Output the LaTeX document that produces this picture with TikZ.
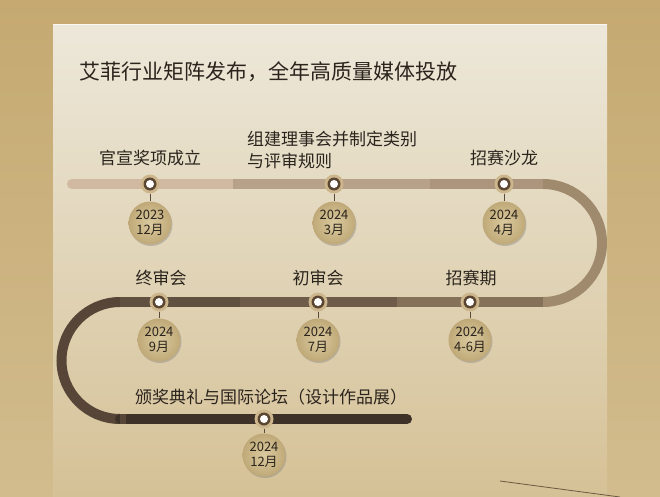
\documentclass[tikz,border=0pt]{standalone}
\usepackage{fontspec}
\setmainfont{Noto Sans CJK SC}
\usetikzlibrary{shadows}
\definecolor{bg}{HTML}{C5A971}
\definecolor{bgBot}{HTML}{D2BC8E}
\definecolor{panelTop}{HTML}{EDE8DA}
\definecolor{panelBot}{HTML}{D5C196}
\definecolor{rA}{HTML}{D0B9A0}
\definecolor{rB}{HTML}{B8A189}
\definecolor{rC}{HTML}{AC957C}
\definecolor{cR}{HTML}{A08A6D}
\definecolor{sC}{HTML}{85705A}
\definecolor{sB}{HTML}{6E5B49}
\definecolor{sA}{HTML}{605040}
\definecolor{cL}{HTML}{574637}
\definecolor{tA}{HTML}{3D3128}
\definecolor{txt}{HTML}{2B241D}
\definecolor{halo}{HTML}{CDB68C}
\definecolor{ring}{HTML}{5B4632}
\definecolor{dIn}{HTML}{DACA9F}
\definecolor{dOut}{HTML}{C0A978}
\definecolor{conn}{HTML}{5A4A3A}
\definecolor{edge}{HTML}{6A5A40}
\begin{document}
\begin{tikzpicture}[x=1pt,y=-1pt,
  track/.style={line width=10pt,line cap=butt},
  dotmark/.style={circle,fill=halo,minimum size=19pt,inner sep=0pt},
  datebox/.style={circle,minimum size=43pt,inner sep=0pt,inner color=dIn,outer color=dOut,
    drop shadow={shadow xshift=1pt,shadow yshift=-1.5pt,opacity=0.4},
    align=center,text=txt,font=\fontsize{13}{15.5}\selectfont},
  lab/.style={text=txt,font=\fontsize{17}{24}\selectfont,inner sep=0pt},
  connline/.style={draw=conn,line width=0.9pt}]
\useasboundingbox (0,0) rectangle (660,497);
\shade[top color=bg,bottom color=bgBot] (0,0) rectangle (660,497);
\shade[top color=panelTop,bottom color=panelBot] (53,25) rectangle (607,497);
\draw[white!70!panelTop,line width=1pt] (53,25) -- (607,25);
\draw[edge,line width=0.8pt] (500,481) -- (620,497);
% title
\node[anchor=west,text=txt,font=\fontsize{21}{24}\selectfont,inner sep=0pt] (title) at (79,72) {艾菲行业矩阵发布，全年高质量媒体投放};
% track
\draw[track,rA,line cap=round] (72,184) -- (233,184);
\draw[track,rB] (233,184) -- (430,184);
\draw[track,rC] (430,184) -- (543,184);
\draw[track,cR] (543,184) arc(-90:90:59);
\draw[track,sC] (543,302) -- (397,302);
\draw[track,sB] (397,302) -- (240,302);
\draw[track,sA] (240,302) -- (120,302);
\draw[track,cL] (120,302) arc(-90:-270:58.5);
\draw[track,tA,line cap=round] (120,419) -- (407,419);
\draw[track,cL] (120,419) -- (126,419);
% markers
\foreach \n/\x/\y in {m1/150/184,m2/334/184,m3/504/184,m4/159/302,m5/318/302,m6/470/302,m7/264/419}{
  \node[dotmark] (\n) at (\x,\y) {};
  \fill[ring] (\n) circle (6.5pt);
  \fill[white] (\n) circle (4pt);
}
% date circles
\node[datebox] (d1) at (150,223) {2023\\12月};
\node[datebox] (d2) at (334,223) {2024\\3月};
\node[datebox] (d3) at (504,223) {2024\\4月};
\node[datebox] (d4) at (159,340) {2024\\9月};
\node[datebox] (d5) at (318,340) {2024\\7月};
\node[datebox] (d6) at (470,340) {2024\\4-6月};
\node[datebox] (d7) at (264,455) {2024\\12月};
\foreach \i in {1,...,7}{\draw[connline] (m\i) -- (d\i);}
% labels
\node[lab] (l1) at (150,158) {官宣奖项成立};
\node[lab,anchor=west] (l2a) at (247,139) {组建理事会并制定类别};
\node[lab,anchor=west] (l2b) at (247,161) {与评审规则};
\node[lab] (l3) at (504,158) {招赛沙龙};
\node[lab] (l4) at (161,278) {终审会};
\node[lab] (l5) at (318,278) {初审会};
\node[lab] (l6) at (471,278) {招赛期};
\node[lab,anchor=west] (l7) at (135,397) {颁奖典礼与国际论坛（设计作品展）};
\end{tikzpicture}
\end{document}
